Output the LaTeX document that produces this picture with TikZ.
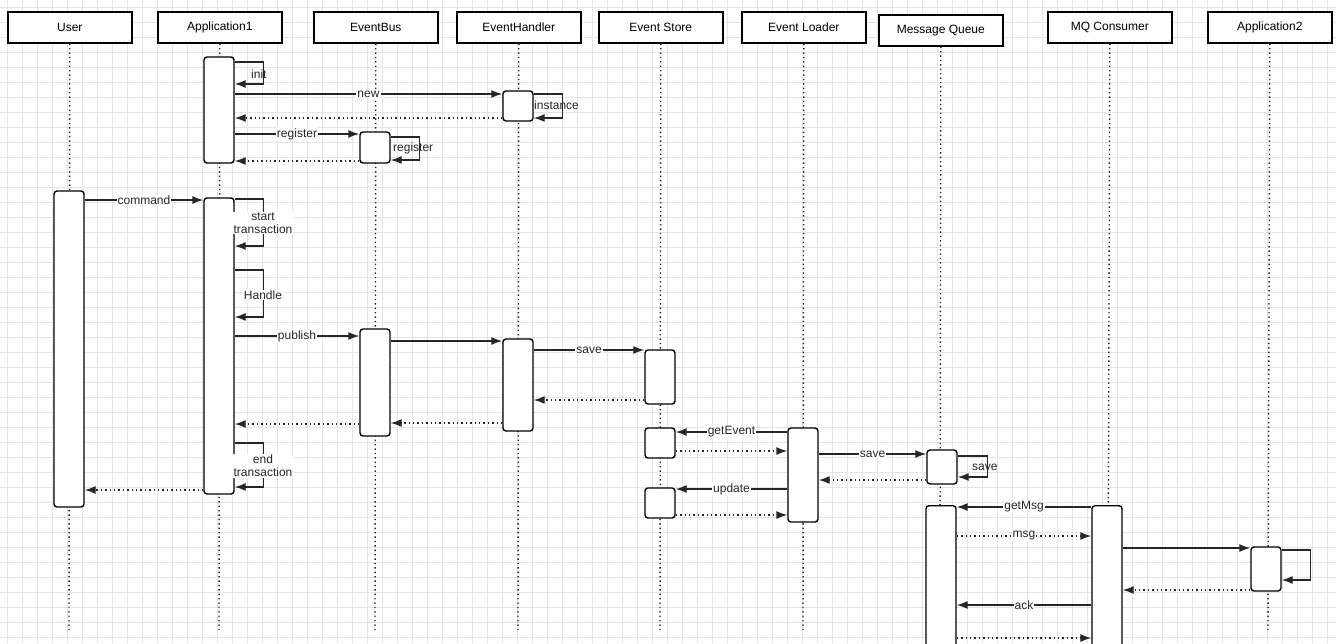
\documentclass[tikz,border=0pt]{standalone}
\usepackage{fontspec}
\setmainfont{Liberation Sans}
\usetikzlibrary{arrows.meta}
\begin{document}
\begin{tikzpicture}[x=1pt,y=-1pt,
  font=\fontsize{12}{13}\selectfont,
  hdr/.style={draw,line width=1.6pt,minimum width=124pt,minimum height=31pt,anchor=north west,inner sep=0,fill=white},
  act/.style={draw,line width=1.4pt,rounded corners=3pt,fill=white},
  life/.style={line width=1.4pt,dash pattern=on 1.4pt off 3pt,color=black!85},
  msg/.style={line width=1.4pt,color=black!85,-{Latex[length=11pt,width=8pt]}},
  ret/.style={msg,dash pattern=on 1.4pt off 3pt},
  lbl/.style={fill=white,inner sep=1pt,text=black!85},
  slbl/.style={inner sep=1pt,text=black!85,align=center}]
\useasboundingbox (0,0) rectangle (1336,643);
\fill[white] (0,0) rectangle (1336,643);
\foreach \i in {0,...,89} \draw[black!10,line width=0.8pt] (7.5+15*\i,0) -- (7.5+15*\i,643);
\foreach \i in {0,...,43} \draw[black!10,line width=0.8pt] (0,7+15*\i) -- (1336,7+15*\i);
% headers
\node[hdr] (hU) at (7,11) {User};
\node[hdr] (hA1) at (157,11) {Application1};
\node[hdr] (hEB) at (313,11) {EventBus};
\node[hdr] (hEH) at (456,11) {EventHandler};
\node[hdr] (hES) at (598,11) {Event Store};
\node[hdr] (hEL) at (741,11) {Event Loader};
\node[hdr] (hMQ) at (878,14) {Message Queue};
\node[hdr] (hMC) at (1047,11) {MQ Consumer};
\node[hdr] (hA2) at (1207,11) {Application2};
% lifelines
\foreach \n/\x in {hU/69,hA1/219,hEB/375,hEH/518,hES/660,hEL/803,hMQ/940,hMC/1108,hA2/1268}
  \draw[life] (\n.south) -- (\x,630);
% activations
\node[act,minimum width=30pt,minimum height=106pt] (a1) at (219,110) {};
\node[act,minimum width=30pt,minimum height=30pt] (eh1) at (518,106) {};
\node[act,minimum width=30pt,minimum height=31pt] (eb1) at (375,147.5) {};
\node[act,minimum width=30pt,minimum height=316pt] (u) at (69,349) {};
\node[act,minimum width=30pt,minimum height=296pt] (a2) at (219,346) {};
\node[act,minimum width=30pt,minimum height=107pt] (eb2) at (375,382.5) {};
\node[act,minimum width=30pt,minimum height=92pt] (eh2) at (518,385) {};
\node[act,minimum width=30pt,minimum height=54pt] (es1) at (660,377) {};
\node[act,minimum width=30pt,minimum height=30pt] (es2) at (660,443) {};
\node[act,minimum width=30pt,minimum height=94pt] (el) at (803,475) {};
\node[act,minimum width=30pt,minimum height=34pt] (mq1) at (942,467) {};
\node[act,minimum width=30pt,minimum height=30pt] (es3) at (660,503) {};
\node[act,minimum width=30pt,minimum height=150pt,anchor=north] (mq2) at (941,505) {};
\node[act,minimum width=30pt,minimum height=150pt,anchor=north] (mc) at (1107,505) {};
\node[act,minimum width=30pt,minimum height=44pt] (ap2) at (1266,569) {};
% self messages
\draw[msg] (a1.east |- 0,62) -- ++(29,0) -- ++(0,22) coordinate (c1) -- (a1.east |- c1);
\node[slbl,right] at (250,74) {init};
\draw[msg] (eh1.east |- 0,94) -- ++(29,0) -- ++(0,24) coordinate (c2) -- (eh1.east |- c2);
\node[slbl,right] at (533,105) {instance};
\draw[msg] (eb1.east |- 0,137) -- ++(29,0) -- ++(0,23) coordinate (c3) -- (eb1.east |- c3);
\node[slbl,right] at (392,148) {register};
\draw[msg] (a2.east |- 0,199) -- ++(29,0) -- ++(0,47) coordinate (c4) -- (a2.east |- c4);
\node[slbl,fill=white] at (263,223) {start\\transaction};
\draw[msg] (a2.east |- 0,270) -- ++(29,0) -- ++(0,47) coordinate (c5) -- (a2.east |- c5);
\node[slbl,fill=white] at (263,295) {Handle};
\draw[msg] (a2.east |- 0,443) -- ++(29,0) -- ++(0,44) coordinate (c6) -- (a2.east |- c6);
\node[slbl,fill=white] at (263,466) {end\\transaction};
\draw[msg] (mq1.east |- 0,456) -- ++(30,0) -- ++(0,21) coordinate (c7) -- (mq1.east |- c7);
\node[slbl,right] at (971,467) {save};
\draw[msg] (ap2.east |- 0,550) -- ++(29,0) -- ++(0,30) coordinate (c8) -- (ap2.east |- c8);
% messages
\draw[msg] (a1.east |- 0,94) -- node[lbl]{new} (eh1.west |- 0,94);
\draw[ret] (eh1.west |- 0,118) -- (a1.east |- 0,118);
\draw[msg] (a1.east |- 0,134) -- node[lbl]{register} (eb1.west |- 0,134);
\draw[ret] (eb1.west |- 0,161) -- (a1.east |- 0,161);
\draw[msg] (u.east |- 0,200) -- node[lbl]{command} (a2.west |- 0,200);
\draw[msg] (a2.east |- 0,336) -- node[lbl]{publish} (eb2.west |- 0,336);
\draw[msg] (eb2.east |- 0,341) -- (eh2.west |- 0,341);
\draw[msg] (eh2.east |- 0,350) -- node[lbl]{save} (es1.west |- 0,350);
\draw[ret] (es1.west |- 0,400) -- (eh2.east |- 0,400);
\draw[ret] (eh2.west |- 0,423) -- (eb2.east |- 0,423);
\draw[ret] (eb2.west |- 0,424) -- (a2.east |- 0,424);
\draw[ret] (a2.west |- 0,490) -- (u.east |- 0,490);
\draw[msg] (el.west |- 0,432) -- node[lbl]{getEvent} (es2.east |- 0,432);
\draw[ret] (es2.east |- 0,451) -- (el.west |- 0,451);
\draw[msg] (el.east |- 0,454) -- node[lbl]{save} (mq1.west |- 0,454);
\draw[ret] (mq1.west |- 0,480) -- (el.east |- 0,480);
\draw[msg] (el.west |- 0,489) -- node[lbl]{update} (es3.east |- 0,489);
\draw[ret] (es3.east |- 0,515) -- (el.west |- 0,515);
\draw[msg] (mc.west |- 0,507) -- node[lbl]{getMsg} (mq2.east |- 0,507);
\draw[ret] (mq2.east |- 0,536) -- node[lbl]{msg} (mc.west |- 0,536);
\draw[msg] (mc.east |- 0,548) -- (ap2.west |- 0,548);
\draw[ret] (ap2.west |- 0,590) -- (mc.east |- 0,590);
\draw[msg] (mc.west |- 0,605) -- node[lbl]{ack} (mq2.east |- 0,605);
\draw[ret] (mq2.east |- 0,638) -- (mc.west |- 0,638);
\end{tikzpicture}
\end{document}
